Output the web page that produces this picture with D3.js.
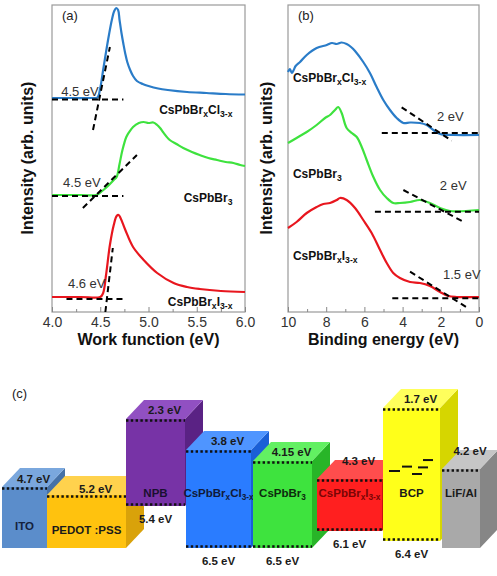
<!DOCTYPE html>
<html><head><meta charset="utf-8">
<script src="https://cdn.jsdelivr.net/npm/d3@7/dist/d3.min.js"></script>
<style>
body{margin:0;background:#fff}
svg{display:block}
text{font-family:Arial,"Liberation Sans",Helvetica,sans-serif}
</style>
</head><body>
<svg id="fig" width="497" height="576"></svg>
<script>
// ---------------- DATA ----------------
// Panel (a): work function (eV) vs intensity (arb. units)
const wfBlue = [[4.00,214],[4.20,214],[4.40,214],[4.47,214.5],[4.50,224],[4.53,242],[4.56,260],[4.59,277],[4.62,292],[4.645,301],[4.665,304],[4.685,302],[4.70,292],[4.72,279],[4.74,268],[4.76,258],[4.78,250],[4.81,242],[4.84,236],[4.88,231],[4.94,228],[5.00,226],[5.10,223.5],[5.20,222],[5.40,220],[5.60,219],[5.80,218],[6.00,217.5]];
const wfGreen = [[4.00,117],[4.30,117],[4.46,117],[4.52,121],[4.58,126],[4.64,132],[4.67,135],[4.70,148],[4.73,162],[4.77,175],[4.80,180],[4.84,185],[4.90,189],[4.95,190],[5.00,189],[5.05,189.5],[5.09,187],[5.12,184],[5.15,180],[5.22,172],[5.29,168],[5.36,164],[5.45,160],[5.53,157],[5.62,154],[5.71,152],[5.80,150],[5.88,149],[5.95,147],[6.00,146]];
const wfRed = [[4.00,15],[4.30,15],[4.50,15],[4.53,19],[4.56,37],[4.60,67],[4.64,87],[4.67,96],[4.69,97],[4.71,94],[4.76,82],[4.84,65],[4.95,52],[5.09,39],[5.26,29],[5.40,25],[5.53,23],[5.75,21],[6.00,20]];
const wfBaselines = [[4.00,4.74,212.5],[4.00,4.74,116],[4.15,4.74,13]];        // [x0,x1,intensity]
const wfTangents  = [[4.425,182,4.60,265],[4.32,104,4.88,157],[4.553,0,4.63,64]]; // [x0,y0,x1,y1]
const wfOnsets = ["4.5 eV","4.5 eV","4.6 eV"];
const wfOnsetAt = [[4.29,216.5],[4.31,125.5],[4.36,24.5]];

// Panel (b): binding energy (eV) vs intensity (arb. units)
const beBlue = [[10.0,240],[9.9,243],[9.8,239],[9.7,242],[9.6,246],[9.37,250],[9.02,257],[8.50,264],[7.97,267],[7.70,269],[7.45,268],[7.20,269.5],[6.93,268],[6.70,265],[6.49,261],[6.06,250],[5.71,239],[5.36,225],[5.01,212],[4.66,202],[4.31,194],[3.96,189],[3.61,189.5],[3.09,189],[2.74,187],[2.39,182],[2.04,178],[1.35,177],[0.0,177]];
const beGreen = [[10.0,169],[9.55,174],[9.02,180],[8.50,187],[8.06,194],[7.80,197],[7.54,202],[7.37,205],[7.19,199],[6.93,184],[6.66,179],[6.40,175],[6.14,165],[5.88,152],[5.53,135],[5.18,122],[4.83,114],[4.49,109],[4.14,109],[3.61,110],[3.09,112],[2.57,109],[2.04,104],[1.52,101],[0.0,102]];
const beRed = [[10.0,84],[9.55,90],[9.02,99],[8.50,105],[8.15,108],[7.80,109],[7.45,112],[7.28,114],[6.93,112],[6.49,104],[6.06,92],[5.62,79],[5.18,62],[4.83,49],[4.49,39],[4.14,34],[3.61,30],[3.09,29],[2.57,26],[2.04,20],[1.61,16],[1.17,15],[0.0,15]];
const beBaselines = [[5.09,0,179],[5.45,0,100.3],[4.54,0,13.7]];
const beTangents  = [[4.05,204.7,1.43,171.3],[3.96,122,0.82,90.3],[3.61,40.3,0.56,3.7]];
const beOnsets = ["2 eV","2 eV","1.5 eV"];
const beOnsetAt = [[1.5,191],[1.35,122],[0.9,33]];

const sampleNames = ["CsPbBr_{x}Cl_{3-x}","CsPbBr_{3}","CsPbBr_{x}I_{3-x}"];

const wfTicks = [4.0,4.5,5.0,5.5,6.0];
const wfMinor = [4.25,4.75,5.25,5.75];
const beTicks = [10,8,6,4,2,0];
const beMinor = [9,7,5,3,1];

// Panel (c): energy levels
const materials = ["ITO","PEDOT :PSS","NPB","CsPbBr_{x}Cl_{3-x}","CsPbBr_{3}","CsPbBr_{x}I_{3-x}","BCP","LiF/Al"];
const lumo = [4.7,5.2,2.3,3.8,4.15,4.3,1.7,4.2];
const homo = [null,null,5.4,6.5,6.5,6.1,6.4,null];
const bcpStates = [4.22,4.185,4.25,4.19,4.12];

// ---------------- STYLE / LAYOUT ----------------
const seriesColors = ["#2a7cc8","#3ee23e","#e8161e"];
const frontCol = ["#5b8dcb","#ffc20e","#7733a6","#2a7cff","#3ee33e","#ff1f1f","#ffff1a","#a9a9a9"];
const topCol   = ["#7aa7dd","#ffd24d","#9150c2","#4f95ff","#62f062","#ff4d4d","#ffff5c","#c6c6c6"];
const sideCol  = ["#4672a8","#d9a20a","#5a2284","#1a5fd6","#28b528","#c81010","#d6d600","#868686"];
const nameCol  = ["#14213d","#1a1a1a","#1a1030","#101a3a","#0d2a0d","#7a0505","#1a1a1a","#1a1a1a"];
const blockW   = [45,79,59,65,59,65,57,38];
const blockGap = [0,0,0,1,2,5,1,2];
const lumoLabelDy = [-9,-7,-10,-10,-10,-19,-10,-19];
const bcpStateX = [[6,17],[19,29],[29,39],[35,45],[40,50]];
const depthX = 18, depthY = 19;
const cFont = 11.5;

const svg = d3.select("#fig");

function rich(textSel, str, size){
  const parts = str.split(/(_\{[^}]*\})/).filter(s=>s.length);
  let sub = false;
  parts.forEach(p=>{
    const m = p.match(/^_\{(.*)\}$/);
    const t = textSel.append("tspan");
    if(m){ t.text(m[1]).attr("font-size", size*0.72).attr("dy", sub?0:size*0.28); sub=true; }
    else { t.text(p).attr("dy", sub? -size*0.28 : 0); sub=false; }
  });
  return textSel;
}

// ---------------- PANELS (a) and (b) ----------------
const yI = d3.scaleLinear().domain([0,307]).range([312,5]);
const panels = [
  {x0:52,x1:245,dom:[4,6],ticks:wfTicks,minor:wfMinor,fmt:d3.format(".1f"),series:[wfBlue,wfGreen,wfRed],
   base:wfBaselines,tan:wfTangents,onset:wfOnsets,onsetAt:wfOnsetAt,title:"Work function (eV)",tag:"(a)",titleOff:19},
  {x0:288,x1:479,dom:[10,0],ticks:beTicks,minor:beMinor,fmt:d3.format("d"),series:[beBlue,beGreen,beRed],
   base:beBaselines,tan:beTangents,onset:beOnsets,onsetAt:beOnsetAt,title:"Binding energy (eV)",tag:"(b)",titleOff:16}
];

panels.forEach((P,pi)=>{
  const x = d3.scaleLinear().domain(P.dom).range([P.x0,P.x1]);
  const g = svg.append("g");
  g.append("rect").attr("x",P.x0).attr("y",5).attr("width",P.x1-P.x0).attr("height",307)
    .attr("fill","none").attr("stroke","#9a9a9a").attr("stroke-width",1.2);
  const ax = g.append("g").attr("transform","translate(0,312)")
    .call(d3.axisBottom(x).tickValues(P.ticks).tickFormat(P.fmt).tickSize(-5).tickPadding(5));
  ax.select(".domain").remove();
  ax.selectAll(".tick line").attr("stroke","#888");
  ax.selectAll("text").attr("font-size",14).attr("fill","#333")
    .attr("font-family",'Arial,"Liberation Sans",sans-serif');
  const mx = g.append("g").attr("transform","translate(0,312)")
    .call(d3.axisBottom(x).tickValues(P.minor).tickFormat("").tickSize(-3));
  mx.select(".domain").remove();
  mx.selectAll(".tick line").attr("stroke","#888");
  const line = d3.line().x(d=>x(d[0])).y(d=>yI(d[1])).curve(d3.curveCatmullRom.alpha(0.5));
  P.series.forEach((s,i)=>{
    g.append("path").attr("d",line(s)).attr("fill","none").attr("stroke",seriesColors[i])
      .attr("stroke-width",2.2).attr("stroke-linejoin","round");
  });
  P.base.forEach(b=>{
    g.append("line").attr("x1",x(b[0])).attr("x2",x(b[1])).attr("y1",yI(b[2])).attr("y2",yI(b[2]))
      .attr("stroke","#000").attr("stroke-width",2).attr("stroke-dasharray","6,4");
  });
  P.tan.forEach(t=>{
    g.append("line").attr("x1",x(t[0])).attr("y1",yI(t[1])).attr("x2",x(t[2])).attr("y2",yI(t[3]))
      .attr("stroke","#000").attr("stroke-width",2).attr("stroke-dasharray","6,4");
  });
  P.onset.forEach((o,i)=>{
    const at = P.onsetAt[i];
    g.append("text").attr("x",x(at[0])).attr("y",yI(at[1])).attr("font-size",13).attr("fill","#333")
      .attr("text-anchor","middle").text(o);
  });
  const nameY = pi===0 ? [198,110,6] : [230,134,52];
  sampleNames.forEach((n,i)=>{
    const t = g.append("text").attr("font-size",12).attr("font-weight","bold").attr("fill","#111")
      .attr("x", pi===0 ? x(5.87) : x(9.74)).attr("y", yI(nameY[i]))
      .attr("text-anchor", pi===0?"end":"start");
    rich(t,n,12);
  });
  g.append("text").attr("x",(P.x0+P.x1)/2).attr("y",345).attr("text-anchor","middle")
    .attr("font-size",16).attr("font-weight","bold").attr("fill","#111").text(P.title);
  g.append("text").attr("transform",`translate(${P.x0-P.titleOff},158) rotate(-90)`).attr("text-anchor","middle")
    .attr("font-size",16).attr("font-weight","bold").attr("fill","#111").text("Intensity (arb. units)");
  g.append("text").attr("x",P.x0+10).attr("y",20).attr("font-size",13).attr("fill","#222").text(P.tag);
});

// ---------------- PANEL (c) ----------------
const yE = d3.scaleLinear()
  .domain([1.7,2.3,3.8,4.15,4.2,4.3,4.7,5.2,5.4,6.1,6.4,6.5])
  .range([408,419,450,461,469,479,487,495,506,531,541,548]);
const baseEnergy = 6.5;
let acc = 0;
const starts = blockW.map((w,i)=>{ acc += blockGap[i]; const s = acc; acc += w; return s; });
const xU = d3.scaleLinear().domain([0,acc]).range([2,480]);

const gc = svg.append("g");
gc.append("text").attr("x",12).attr("y",398).attr("font-size",13).attr("fill","#222").text("(c)");

materials.forEach((m,i)=>{
  const xa = xU(starts[i]), xb = xU(starts[i]+blockW[i]);
  const yt = yE(lumo[i]), yb = yE(homo[i]===null ? baseEnergy : homo[i]);
  const g = gc.append("g");
  g.append("polygon").attr("points",[[xb,yt],[xb+depthX,yt-depthY],[xb+depthX,yb-depthY],[xb,yb]].join(" "))
    .attr("fill",sideCol[i]);
  g.append("polygon").attr("points",[[xa,yt],[xb,yt],[xb+depthX,yt-depthY],[xa+depthX,yt-depthY]].join(" "))
    .attr("fill",topCol[i]);
  g.append("rect").attr("x",xa).attr("y",yt).attr("width",xb-xa).attr("height",yb-yt).attr("fill",frontCol[i]);
  g.append("line").attr("x1",xa).attr("x2",xb).attr("y1",yt+1.5).attr("y2",yt+1.5)
    .attr("stroke","#111").attr("stroke-width",2.6).attr("stroke-dasharray","2.4,2.4");
  if(homo[i]!==null){
    g.append("line").attr("x1",xa).attr("x2",xb).attr("y1",yb-1.5).attr("y2",yb-1.5)
      .attr("stroke","#111").attr("stroke-width",2.6).attr("stroke-dasharray","2.4,2.4");
    g.append("text").attr("x",(xa+xb)/2).attr("y",yb+17).attr("text-anchor","middle")
      .attr("font-size",cFont).attr("font-weight","bold").attr("fill","#1a1a1a").text(homo[i]+" eV");
  }
  g.append("text").attr("x",(xa+xb)/2+depthX/2).attr("y",yt+lumoLabelDy[i]+4.5).attr("text-anchor","middle")
    .attr("font-size",cFont).attr("font-weight","bold").attr("fill","#1a1a1a").text(lumo[i]+" eV");
  const cy = yt > yE(4.5) ? (yt+yb)/2 + 8 : 492;
  const t = g.append("text").attr("x",(xa+xb)/2).attr("y",cy+4.5).attr("text-anchor","middle")
    .attr("font-size",cFont).attr("font-weight","bold").attr("fill",nameCol[i]);
  rich(t,m,cFont);
});

const bcpIdx = materials.indexOf("BCP");
bcpStates.forEach((e,k)=>{
  const xa = xU(starts[bcpIdx]);
  gc.append("line").attr("x1",xa+bcpStateX[k][0]).attr("x2",xa+bcpStateX[k][1])
    .attr("y1",yE(e)).attr("y2",yE(e)).attr("stroke","#111").attr("stroke-width",2);
});
</script>
</body></html>
